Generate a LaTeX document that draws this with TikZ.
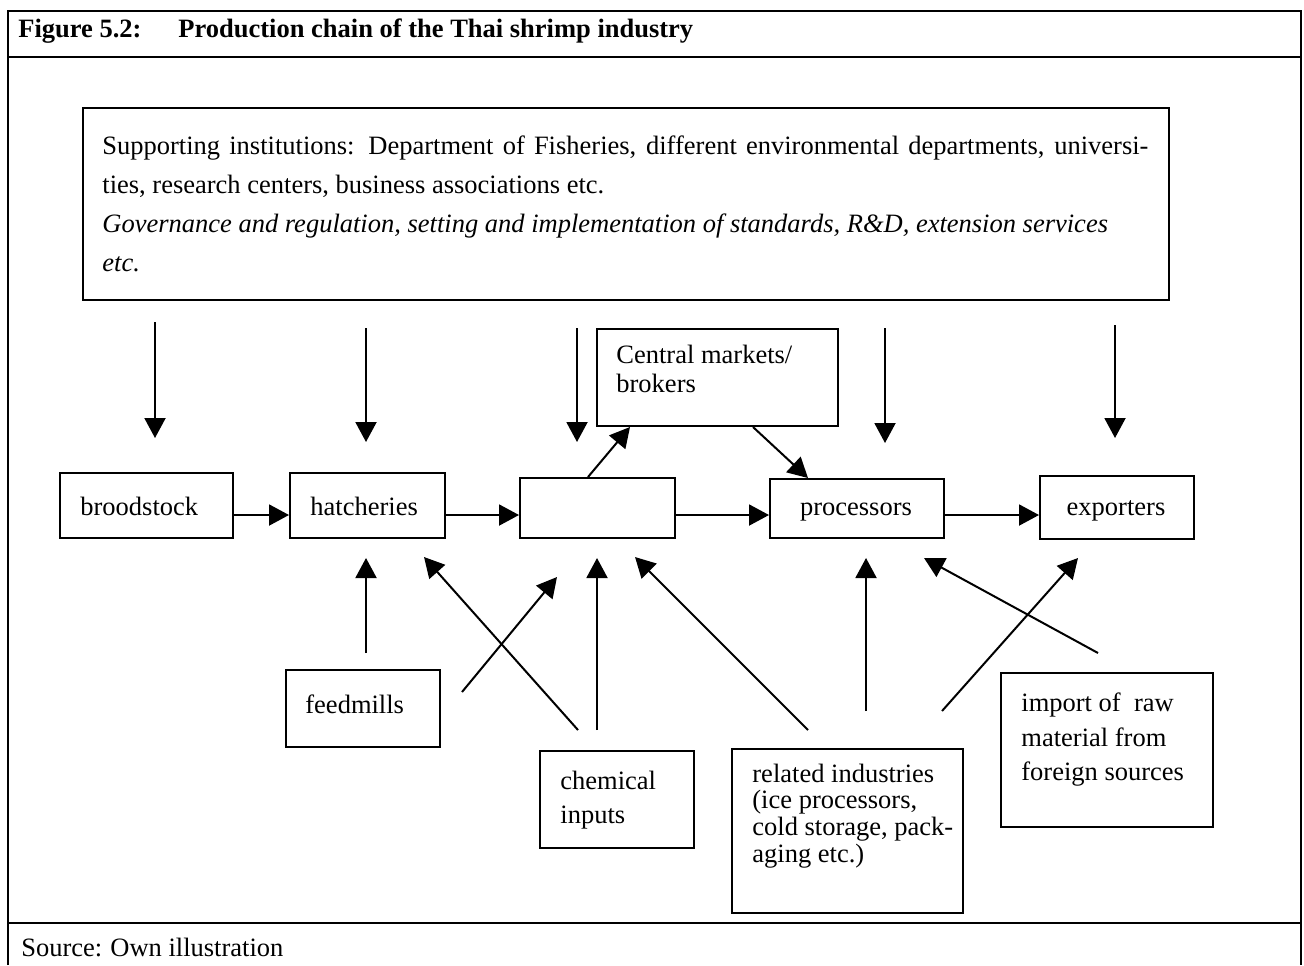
\documentclass[tikz,border=0pt]{standalone}
\usepackage{fontspec}
\setmainfont{Liberation Serif}
\usetikzlibrary{arrows.meta,calc}
\begin{document}
\begin{tikzpicture}[x=0.5pt,y=-0.5pt,
  box/.style={draw, line width=1pt, inner sep=0pt, anchor=north west},
  conn/.style={line width=1pt, -{Triangle[width=10.5pt,length=10pt]}},
  frameline/.style={line width=1.4pt},
  txt/.style={font=\fontsize{13.25}{15}\selectfont, inner sep=0pt, anchor=base west},
  ctxt/.style={font=\fontsize{13.25}{15}\selectfont, inner sep=0pt, anchor=base},
  ttl/.style={font=\fontsize{13.25}{15}\selectfont\bfseries, inner sep=0pt, anchor=base west}]
\useasboundingbox (0,0) rectangle (1304,965);
% frame
\draw[frameline] (8,965) -- (8,11) -- (1301,11) -- (1301,965);
\draw[frameline] (8,57) -- (1301,57);
\draw[frameline] (8,923) -- (1301,923);
\node[ttl] (fig) at (18,37) {Figure 5.2:};
\node[ttl] (title) at (178,37) {Production chain of the Thai shrimp industry};
\node[txt] (src) at (21,956) {Source:};
\node[txt] (own) at (110,956) {Own illustration};
% supporting institutions
\node[box, minimum width=543pt, minimum height=96pt] (sup) at (82,107) {};
\node[txt] (s1) at (102,154) {\makebox[523pt][s]{Supporting institutions: Department of Fisheries, different environmental departments, universi-}};
\node[txt] (s2) at (102,193) {ties, research centers, business associations etc.};
\node[txt] (s3) at (102,232) {\itshape Governance and regulation, setting and implementation of standards, R\&D, extension services};
\node[txt] (s4) at (102,271) {\itshape etc.};
% chain boxes
\node[box, minimum width=86.5pt, minimum height=32.5pt] (brood) at (59,472) {};
\node[txt] (broodt) at (80,515) {broodstock};
\node[box, minimum width=77.5pt, minimum height=32.5pt] (hatch) at (289,472) {};
\node[txt] (hatcht) at (310,515) {hatcheries};
\node[box, minimum width=77.5pt, minimum height=30pt] (farm) at (519,477) {};
\node[box, minimum width=120.5pt, minimum height=48.5pt] (central) at (596,328) {};
\node[txt] (central1) at (616,363) {Central markets/};
\node[txt] (central2) at (616,392) {brokers};
\node[box, minimum width=87pt, minimum height=29.5pt] (proc) at (769,478) {};
\node[ctxt] (proct) at (856,515) {processors};
\node[box, minimum width=77pt, minimum height=31.5pt] (export) at (1039,475) {};
\node[ctxt] (exportt) at (1116,515) {exporters};
% lower boxes
\node[box, minimum width=77pt, minimum height=38.5pt] (feed) at (285,669) {};
\node[txt] (feedt) at (305,713) {feedmills};
\node[box, minimum width=77pt, minimum height=48.5pt] (chem) at (539,750) {};
\node[txt] (chem1) at (560,789) {chemical};
\node[txt] (chem2) at (560,823) {inputs};
\node[box, minimum width=115.5pt, minimum height=82pt] (rel) at (731,748) {};
\node[txt] (rel1) at (752,782) {related industries};
\node[txt] (rel2) at (752,808) {(ice processors,};
\node[txt] (rel3) at (752,835) {cold storage, pack-};
\node[txt] (rel4) at (752,862) {aging etc.)};
\node[box, minimum width=106pt, minimum height=77pt] (imp) at (1000,672) {};
\node[txt] (imp1) at (1021,711) {import of\ \ raw};
\node[txt] (imp2) at (1021,746) {material from};
\node[txt] (imp3) at (1021,780) {foreign sources};
% horizontal chain arrows
\draw[conn] (brood.east |- 0,515) -- (hatch.west |- 0,515);
\draw[conn] (hatch.east |- 0,515) -- (farm.west |- 0,515);
\draw[conn] (farm.east |- 0,515) -- (proc.west |- 0,515);
\draw[conn] (proc.east |- 0,515) -- (export.west |- 0,515);
\draw[conn] ($(farm.north west)+(69,0)$) -- ($(central.south west)+(34,0)$);
\draw[conn] ($(central.south west)+(157,0)$) -- ($(proc.north west)+(39,0)$);
% arrows from supporting institutions
\coordinate (d1s) at (155,322); \coordinate (d1e) at (155,438);
\coordinate (d2s) at (366,328); \coordinate (d2e) at (366,442);
\coordinate (d3s) at (577,328); \coordinate (d3e) at (577,442);
\coordinate (d4s) at (885,328); \coordinate (d4e) at (885,443);
\coordinate (d5s) at (1115,325); \coordinate (d5e) at (1115,438);
\draw[conn] (d1s) -- (d1e);
\draw[conn] (d2s) -- (d2e);
\draw[conn] (d3s) -- (d3e);
\draw[conn] (d4s) -- (d4e);
\draw[conn] (d5s) -- (d5e);
% upward arrows
\coordinate (u1s) at (366,653); \coordinate (u1e) at (366,558);
\coordinate (u2s) at (462,692); \coordinate (u2e) at (557,577);
\coordinate (u3s) at (578,730); \coordinate (u3e) at (424,557);
\coordinate (u4s) at (597,730); \coordinate (u4e) at (597,558);
\coordinate (u5s) at (808,730); \coordinate (u5e) at (635,557);
\coordinate (u6s) at (866,711); \coordinate (u6e) at (866,558);
\coordinate (u7s) at (942,711); \coordinate (u7e) at (1078,558);
\coordinate (u8s) at (1098,653); \coordinate (u8e) at (924,558);
\foreach \i in {1,...,8} {\draw[conn] (u\i s) -- (u\i e);}
\end{tikzpicture}
\end{document}
